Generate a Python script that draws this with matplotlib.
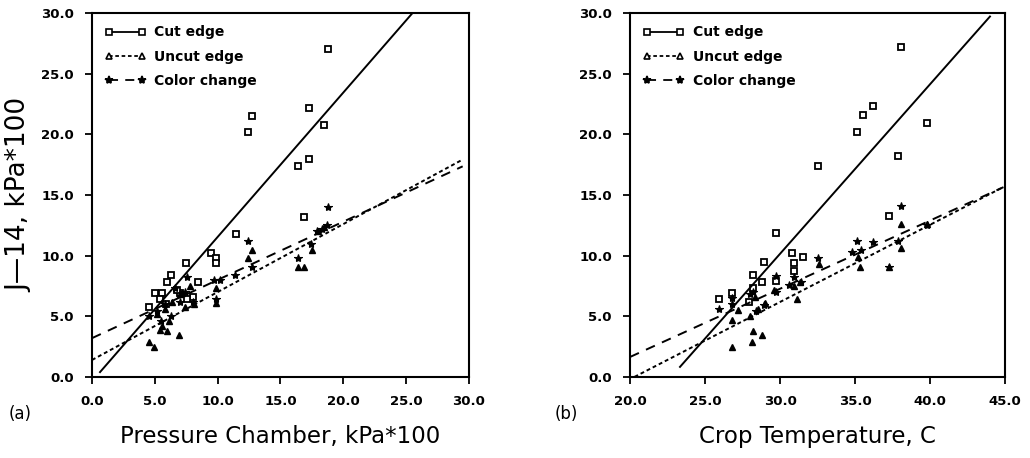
import matplotlib
matplotlib.use('Agg')
import matplotlib.pyplot as plt
import numpy as np

# panel (a): pressure chamber
a_cut_x = [18.8, 12.7, 12.4, 17.3, 18.5, 16.4, 17.3, 16.9, 11.5, 9.5, 9.9, 9.9, 7.5, 6.3, 6.0, 8.4,
           5.0, 5.6, 4.5, 7.0, 8.0, 5.4, 7.6, 6.8, 5.9]
a_cut_y = [27.0, 21.5, 20.2, 22.2, 20.8, 17.4, 18.0, 13.2, 11.8, 10.2, 9.8, 9.4, 9.4, 8.4, 7.8, 7.8,
           6.9, 6.9, 5.8, 6.9, 6.6, 6.4, 6.4, 7.2, 6.0]
a_unc_x = [4.5, 4.9, 6.9, 5.4, 6.0, 12.4, 12.7, 9.9, 16.4, 16.9, 17.5, 18.5, 5.2, 5.8, 6.4, 7.0,
           7.4, 7.8, 8.1, 6.1, 5.6, 9.9, 18.0, 7.2]
a_unc_y = [2.9, 2.5, 3.5, 3.9, 3.8, 9.8, 10.5, 6.1, 9.1, 9.1, 10.5, 12.4, 5.2, 5.6, 6.2, 6.8,
           5.8, 7.5, 6.0, 4.6, 4.2, 7.3, 12.0, 6.9]
a_col_x = [18.8, 12.4, 16.4, 17.4, 18.7, 9.7, 11.4, 12.7, 9.9, 4.5, 5.2, 5.8, 6.3, 7.0, 7.4, 7.6,
           8.0, 6.6, 5.5, 10.2, 18.3, 17.9]
a_col_y = [14.0, 11.2, 9.8, 11.0, 12.5, 8.0, 8.4, 9.1, 6.4, 5.0, 5.4, 6.0, 5.0, 6.2, 7.0, 8.2,
           6.2, 7.3, 4.6, 8.0, 12.2, 12.0]

# panel (b): crop temperature
b_cut_x = [38.1, 35.5, 36.2, 35.1, 39.8, 37.9, 32.5, 37.3, 29.7, 30.8, 31.5, 30.9, 28.9, 28.2,
           25.9, 30.9, 29.7, 28.8, 26.8, 28.2, 27.9]
b_cut_y = [27.2, 21.6, 22.3, 20.2, 20.9, 18.2, 17.4, 13.3, 11.9, 10.2, 9.9, 9.4, 9.5, 8.4,
           6.4, 8.7, 7.9, 7.8, 6.9, 7.3, 6.2]
b_unc_x = [26.8, 28.1, 28.2, 28.8, 26.8, 31.1, 32.6, 35.3, 38.1, 38.1, 35.2, 29.6, 39.8, 28.0,
           28.5, 29.0, 30.9, 31.3, 27.2, 28.3, 37.3]
b_unc_y = [2.5, 2.9, 3.8, 3.5, 4.7, 6.4, 9.3, 9.1, 10.6, 12.6, 9.9, 7.2, 12.6, 5.0,
           5.6, 6.1, 7.5, 7.8, 5.5, 6.6, 9.1]
b_col_x = [38.1, 35.1, 36.2, 32.5, 37.3, 37.9, 25.9, 39.8, 35.4, 26.8, 26.8, 28.0, 28.4, 28.9,
           29.7, 29.7, 30.9, 31.4, 30.6, 28.2, 34.8]
b_col_y = [14.1, 11.2, 11.1, 9.8, 9.1, 11.2, 5.6, 12.5, 10.5, 6.5, 6.0, 6.8, 5.4, 5.9,
           8.3, 7.0, 8.2, 7.8, 7.6, 7.0, 10.3]

# regression lines: (intercept, slope, x_start, x_end)
a_fit = {'cut': (-0.36, 1.19, 0.64, 25.5), 'unc': (1.4, 0.56, 0.0, 29.5), 'col': (3.2, 0.48, 0.0, 29.5)}
b_fit = {'cut': (-31.76, 1.397, 23.33, 44.0), 'unc': (-12.9, 0.636, 20.3, 44.9), 'col': (-9.59, 0.562, 20.0, 44.9)}

labels = {'cut': 'Cut edge', 'unc': 'Uncut edge', 'col': 'Color change'}
markers = {'cut': 's', 'unc': '^', 'col': '*'}
styles = {'cut': '-', 'unc': (0, (2, 1.5)), 'col': (0, (5, 4))}

fig = plt.figure(figsize=(10.3, 4.58), dpi=100)
ax_a = fig.add_axes([0.0893, 0.1769, 0.366, 0.7948])
ax_b = fig.add_axes([0.6117, 0.1769, 0.364, 0.7948])


def draw(ax, pts, fit, xlim, xticks):
    for key, (xs, ys) in pts.items():
        if key == 'cut':
            ax.plot(xs, ys, ls='none', marker='s', ms=4.5, mfc='white', mec='black', mew=1.3)
        elif key == 'unc':
            ax.plot(xs, ys, ls='none', marker='^', ms=4.5, mfc='black', mec='black', mew=1.0)
        else:
            ax.plot(xs, ys, ls='none', marker='*', ms=6, mfc='black', mec='black', mew=0.8)
        b0, b1, x0, x1 = fit[key]
        lx = np.array([x0, x1])
        ax.plot(lx, b0 + b1 * lx, color='black', lw=1.4, ls=styles[key])
    # legend proxies
    handles = []
    for key in ['cut', 'unc', 'col']:
        mfc = 'black' if key == 'col' else 'white'
        h, = ax.plot([], [], color='black', lw=1.3, ls=styles[key], marker=markers[key],
                     ms=5 if key != 'col' else 6, mfc=mfc, mec='black', mew=1.2)
        handles.append(h)
    ax.legend(handles, [labels[k] for k in ['cut', 'unc', 'col']], loc='upper left',
              frameon=False, numpoints=2, handlelength=3.0, handletextpad=0.6,
              borderaxespad=0.6, borderpad=0.3, labelspacing=0.75,
              prop={'weight': 'bold', 'size': 10})
    ax.set_xlim(*xlim)
    ax.set_ylim(0, 30)
    ax.set_xticks(xticks)
    ax.set_yticks(np.arange(0, 31, 5))
    ax.set_xticklabels([f'{t:.1f}' for t in xticks])
    ax.set_yticklabels([f'{t:.1f}' for t in np.arange(0, 31, 5)])
    ax.tick_params(direction='out', length=5, width=1.3, labelsize=9.5, pad=8)
    for lab in ax.get_xticklabels() + ax.get_yticklabels():
        lab.set_fontweight('bold')
    for s in ax.spines.values():
        s.set_linewidth(1.5)


draw(ax_a, {'cut': (a_cut_x, a_cut_y), 'unc': (a_unc_x, a_unc_y), 'col': (a_col_x, a_col_y)},
     a_fit, (0, 30), np.arange(0, 31, 5))
draw(ax_b, {'cut': (b_cut_x, b_cut_y), 'unc': (b_unc_x, b_unc_y), 'col': (b_col_x, b_col_y)},
     b_fit, (20, 45), np.arange(20, 46, 5))

ax_a.set_xlabel('Pressure Chamber, kPa*100', fontsize=16.5, labelpad=12)
ax_b.set_xlabel('Crop Temperature, C', fontsize=16.5, labelpad=12)
ax_a.set_ylabel('J\u201414, kPa*100', fontsize=19, labelpad=6)
fig.text(0.008, 0.085, '(a)', fontsize=12)
fig.text(0.538, 0.085, '(b)', fontsize=12)

fig.savefig('out.png', dpi=100)
